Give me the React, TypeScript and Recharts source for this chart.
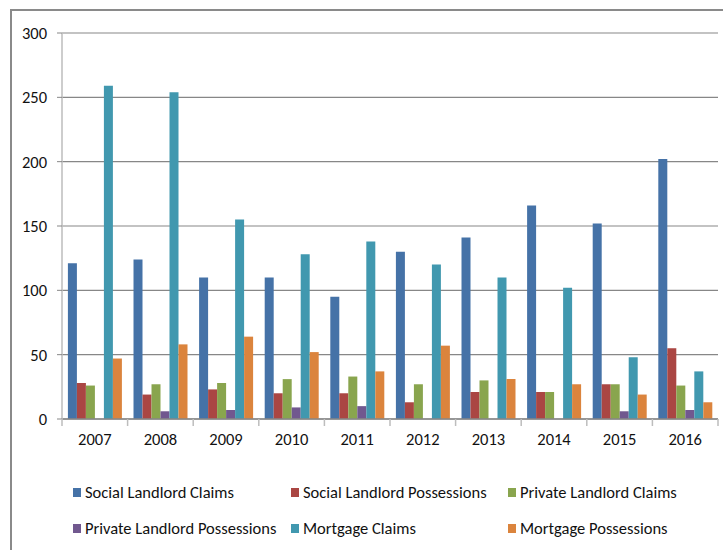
import { BarChart, Bar, XAxis, YAxis, CartesianGrid, Legend } from 'recharts'

// Possession claims and orders, thousands
const years = ['2007', '2008', '2009', '2010', '2011', '2012', '2013', '2014', '2015', '2016']
const socialClaims = [121, 124, 110, 110, 95, 130, 141, 166, 152, 202]
const socialPossessions = [28, 19, 23, 20, 20, 13, 21, 21, 27, 55]
const privateClaims = [26, 27, 28, 31, 33, 27, 30, 21, 27, 26]
const privatePossessions = [0, 6, 7, 9, 10, 0, 0, 0, 6, 7]
const mortgageClaims = [259, 254, 155, 128, 138, 120, 110, 102, 48, 37]
const mortgagePossessions = [47, 58, 64, 52, 37, 57, 31, 27, 19, 13]
const yTicks = [0, 50, 100, 150, 200, 250, 300]

const series = [
  { key: 'socialClaims', name: 'Social Landlord Claims', color: '#4572A7' },
  { key: 'socialPossessions', name: 'Social Landlord Possessions', color: '#AA4643' },
  { key: 'privateClaims', name: 'Private Landlord Claims', color: '#89A54E' },
  { key: 'privatePossessions', name: 'Private Landlord Possessions', color: '#71588F' },
  { key: 'mortgageClaims', name: 'Mortgage Claims', color: '#4198AF' },
  { key: 'mortgagePossessions', name: 'Mortgage Possessions', color: '#DB843D' },
]

const data = years.map((year, i) => ({
  year,
  socialClaims: socialClaims[i],
  socialPossessions: socialPossessions[i],
  privateClaims: privateClaims[i],
  privatePossessions: privatePossessions[i],
  mortgageClaims: mortgageClaims[i],
  mortgagePossessions: mortgagePossessions[i],
}))

const FONT = "Carlito, 'Liberation Sans Narrow', 'Liberation Sans', sans-serif"
const FONT_SIZE = 16.5
const W = 723
const H = 550
const PLOT_LEFT = 62
const PLOT_RIGHT = 718
const STEP = (PLOT_RIGHT - PLOT_LEFT) / years.length

// Excel style: tick marks sit between categories, label in the middle
function YearTick(props: any) {
  const { x, y, payload, index } = props
  const left = x - STEP / 2
  const right = x + STEP / 2
  return (
    <g>
      <line x1={left} y1={y} x2={left} y2={y + 7} stroke="#bdbdbd" strokeWidth={1.5} />
      {index === years.length - 1 && (
        <line x1={right} y1={y} x2={right} y2={y + 7} stroke="#bdbdbd" strokeWidth={1.5} />
      )}
      <text x={x} y={y + 26} textAnchor="middle" fontSize={FONT_SIZE} fill="#111" fontFamily={FONT}>
        {payload.value}
      </text>
    </g>
  )
}

// Two-row legend laid out like the spreadsheet one
function ChartLegend() {
  const cols = [73, 291, 508]
  const rows = [492, 528]
  return (
    <div style={{ position: 'relative', height: 0 }}>
      {series.map((s, i) => (
        <div
          key={s.key}
          style={{
            position: 'absolute',
            left: cols[i % 3],
            top: rows[Math.floor(i / 3)] - 11,
            height: 22,
            display: 'flex',
            alignItems: 'center',
            whiteSpace: 'nowrap',
            fontFamily: FONT,
            fontSize: FONT_SIZE,
            color: '#111',
          }}
        >
          <span style={{ width: 8, height: 9, background: s.color, marginRight: 4, display: 'inline-block' }} />
          {s.name}
        </div>
      ))}
    </div>
  )
}

export default function App() {
  return (
    <div style={{ position: 'absolute', left: 0, top: 0, width: W, height: H, background: '#fff', overflow: 'hidden' }}>
      {/* frame */}
      <div style={{ position: 'absolute', left: 10, top: 9, width: W, height: H, borderLeft: '2px solid #8a8a8a', borderTop: '2px solid #8a8a8a' }} />
      <div style={{ position: 'absolute', left: 0, top: 0, width: 24, height: 15, overflow: 'hidden' }}>
        <div style={{ position: 'absolute', left: 2, top: 2, width: 120, height: 120, borderRadius: '50%', border: '3px solid #1c2f66' }} />
      </div>
      <div style={{ position: 'absolute', left: 0, top: 0 }}>
        <BarChart
          width={W}
          height={H}
          data={data}
          margin={{ top: 33, right: W - PLOT_RIGHT, left: 0, bottom: 101 }}
          barCategoryGap="9%"
          barGap={0}
        >
          <CartesianGrid vertical={false} stroke="#878787" strokeWidth={1.2} />
          <XAxis
            dataKey="year"
            axisLine={{ stroke: '#878787', strokeWidth: 1.5 }}
            tickLine={false}
            tickSize={0}
            tickMargin={0}
            height={30}
            tick={<YearTick />}
            interval={0}
          />
          <YAxis
            domain={[0, 300]}
            ticks={yTicks}
            width={PLOT_LEFT}
            axisLine={{ stroke: '#bdbdbd', strokeWidth: 1.5 }}
            tickLine={{ stroke: '#878787' }}
            tickSize={5}
            tickMargin={10}
            tick={{ fontSize: FONT_SIZE, fill: '#111', fontFamily: FONT }}
          />
          <Legend content={<ChartLegend />} wrapperStyle={{ left: 0, top: 0, width: W }} />
          {series.map((s) => (
            <Bar key={s.key} dataKey={s.key} name={s.name} fill={s.color} isAnimationActive={false} />
          ))}
        </BarChart>
      </div>
    </div>
  )
}
